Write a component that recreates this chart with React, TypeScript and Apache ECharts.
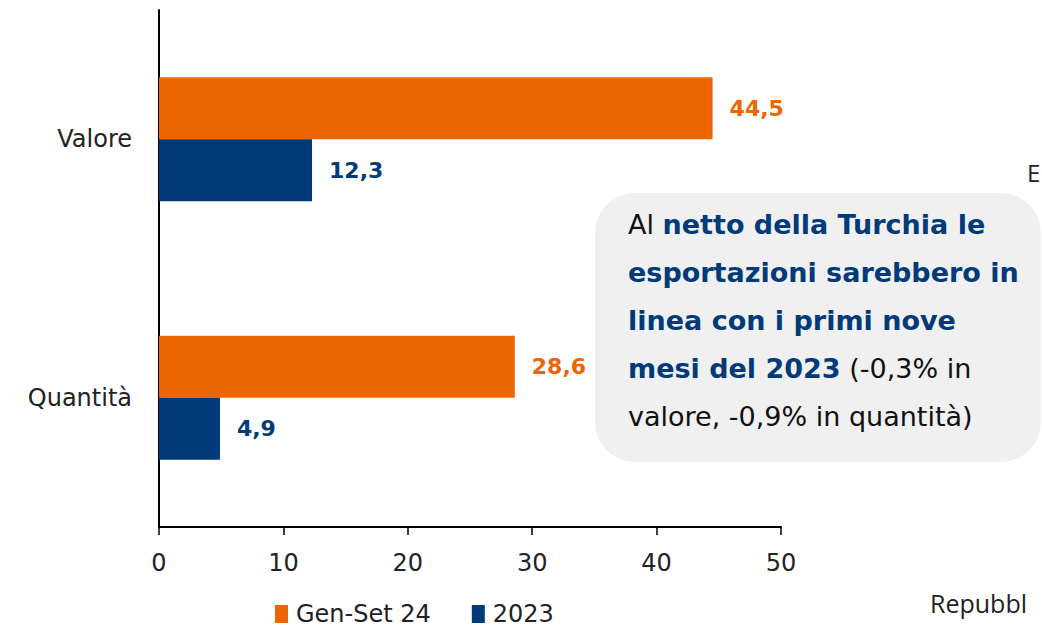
import React, { useEffect, useRef } from "react";
import * as echarts from "echarts";

const categories = ["Valore", "Quantità"];
const seriesNames = ["Gen-Set 24", "2023"];
const genSet24 = [44.5, 28.6];
const y2023 = [12.3, 4.9];
const xTicks = { min: 0, max: 50, interval: 10 };

const ORANGE = "#EC6500";
const BLUE = "#003A78";
const FONT = "'DejaVu Sans', sans-serif";

export default function App() {
  const ref = useRef<HTMLDivElement>(null);
  useEffect(() => {
    if (!ref.current) return;
    const chart = echarts.init(ref.current, null, { renderer: "svg" });
    const fmt = (p: any) => String(p.value).replace(".", ",");
    chart.setOption({
      animation: false,
      textStyle: { fontFamily: FONT },
      grid: { left: 159, right: 261, top: 10, bottom: 104 },
      legend: {
        data: seriesNames,
        left: 270,
        top: 597,
        itemWidth: 13,
        itemHeight: 18,
        itemGap: 41,
        icon: "rect",
        textStyle: { fontFamily: FONT, fontSize: 24, color: "#222", padding: [0, 0, 0, 3] },
      },
      xAxis: {
        type: "value",
        min: xTicks.min,
        max: xTicks.max,
        interval: xTicks.interval,
        splitLine: { show: false },
        axisLine: { show: true, lineStyle: { color: "#000", width: 2 } },
        axisTick: { show: true, length: 8, lineStyle: { color: "#000", width: 1.5 } },
        axisLabel: { fontSize: 24, color: "#222", margin: 24, fontFamily: FONT },
      },
      yAxis: {
        type: "category",
        data: categories,
        inverse: true,
        axisLine: { show: true, lineStyle: { color: "#000", width: 2 } },
        axisTick: { show: false },
        axisLabel: { fontSize: 24, color: "#222", margin: 27, fontFamily: FONT },
      },
      series: [
        {
          name: seriesNames[0],
          type: "bar",
          data: genSet24,
          itemStyle: { color: ORANGE },
          barGap: "0%",
          barCategoryGap: "52%",
          label: {
            show: true,
            position: "right",
            distance: 17,
            formatter: fmt,
            fontSize: 22,
            fontWeight: "bold",
            color: ORANGE,
            fontFamily: FONT,
          },
        },
        {
          name: seriesNames[1],
          type: "bar",
          data: y2023,
          itemStyle: { color: BLUE },
          barGap: "0%",
          barCategoryGap: "52%",
          label: {
            show: true,
            position: "right",
            distance: 17,
            formatter: fmt,
            fontSize: 22,
            fontWeight: "bold",
            color: BLUE,
            fontFamily: FONT,
          },
        },
      ],
      graphic: [
        {
          type: "rect",
          shape: { x: 595, y: 193, width: 446, height: 269, r: 40 },
          style: { fill: "#F0F0F0" },
          z: 10,
        },
        {
          type: "text",
          x: 628,
          y: 200,
          z: 11,
          style: {
            text:
              "{n|Al }{b|netto della Turchia le}\n{b|esportazioni sarebbero in}\n{b|linea con i primi nove}\n{b|mesi del 2023} {n|(-0,3% in}\n{n|valore, -0,9% in quantità)}",
            fontFamily: FONT,
            fontSize: 27,
            lineHeight: 48,
            rich: {
              n: { fontFamily: FONT, fontSize: 27, lineHeight: 48, fill: "#111", color: "#111" },
              b: {
                fontFamily: FONT,
                fontSize: 27,
                lineHeight: 48,
                fill: BLUE,
                color: BLUE,
                fontWeight: "bold",
              },
            },
          },
        },
        {
          type: "text",
          x: 1027,
          y: 160,
          style: { text: "E", fontFamily: "'Open Sans', sans-serif", fontSize: 24, fill: "#222" },
        },
        {
          type: "text",
          x: 930,
          y: 590,
          style: { text: "Repubbl", fontFamily: "'Open Sans', sans-serif", fontSize: 25, fill: "#222" },
        },
      ],
    });
    return () => chart.dispose();
  }, []);
  return (
    <div
      ref={ref}
      style={{ position: "fixed", left: 0, top: 0, width: 1042, height: 631, background: "#fff" }}
    />
  );
}
